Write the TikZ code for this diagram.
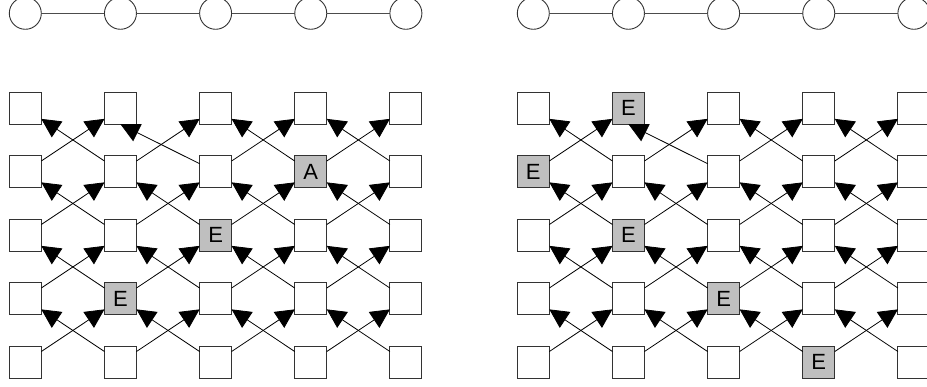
\documentclass[tikz,border=0pt]{standalone}
\usepackage{fontspec}
\setmainfont{Liberation Sans}
\usetikzlibrary{arrows.meta}
\expandafter\def\csname lblL24\endcsname{E}
\expandafter\def\csname lblL33\endcsname{E}
\expandafter\def\csname lblL42\endcsname{A}
\expandafter\def\csname lblR21\endcsname{E}
\expandafter\def\csname lblR12\endcsname{E}
\expandafter\def\csname lblR23\endcsname{E}
\expandafter\def\csname lblR34\endcsname{E}
\expandafter\def\csname lblR45\endcsname{E}
\begin{document}
\begin{tikzpicture}[x=1pt,y=-1pt,
  sq/.style={draw=black!80, line width=0.9pt, fill=white, minimum size=32pt, inner sep=0pt, outer sep=0pt, font=\fontsize{22}{22}\selectfont},
  hl/.style={sq, fill=black!25},
  circ/.style={circle, draw=black!80, line width=0.9pt, minimum size=32pt, inner sep=0pt, outer sep=0pt},
  link/.style={draw=black!70, line width=1pt},
  arr/.style={draw=black, line width=0.8pt, -{Triangle[length=19pt,width=19pt]}},
]
\path[use as bounding box] (0,0) rectangle (927,387);
\foreach \p/\ox in {L/0, R/508} {
  \foreach \c in {1,...,5} {
    \node[circ] (\p o\c) at ({\ox+25.3+95.15*(\c-1)}, 13.3) {};
    \foreach \r in {1,...,5} {
      \ifcsname lbl\p\c\r\endcsname
        \node[hl] (\p s\c\r) at ({\ox+25.3+95.15*(\c-1)}, {108.2+63.5*(\r-1)}) {\csname lbl\p\c\r\endcsname};
      \else
        \node[sq] (\p s\c\r) at ({\ox+25.3+95.15*(\c-1)}, {108.2+63.5*(\r-1)}) {};
      \fi
    }
  }
  \foreach \c in {1,...,4} {
    \pgfmathtruncatemacro\cn{\c+1}
    \draw[link] (\p o\c) -- (\p o\cn);
    \foreach \r in {1,...,4} {
      \pgfmathtruncatemacro\rn{\r+1}
      \draw[arr] (\p s\c\rn) -- (\p s\cn\r);
      \ifnum\c\r=21
        \draw[arr] (\p s\cn\rn) -- (\p s\c\r.south);
      \else
        \draw[arr] (\p s\cn\rn) -- (\p s\c\r);
      \fi
    }
  }
}
\end{tikzpicture}
\end{document}
